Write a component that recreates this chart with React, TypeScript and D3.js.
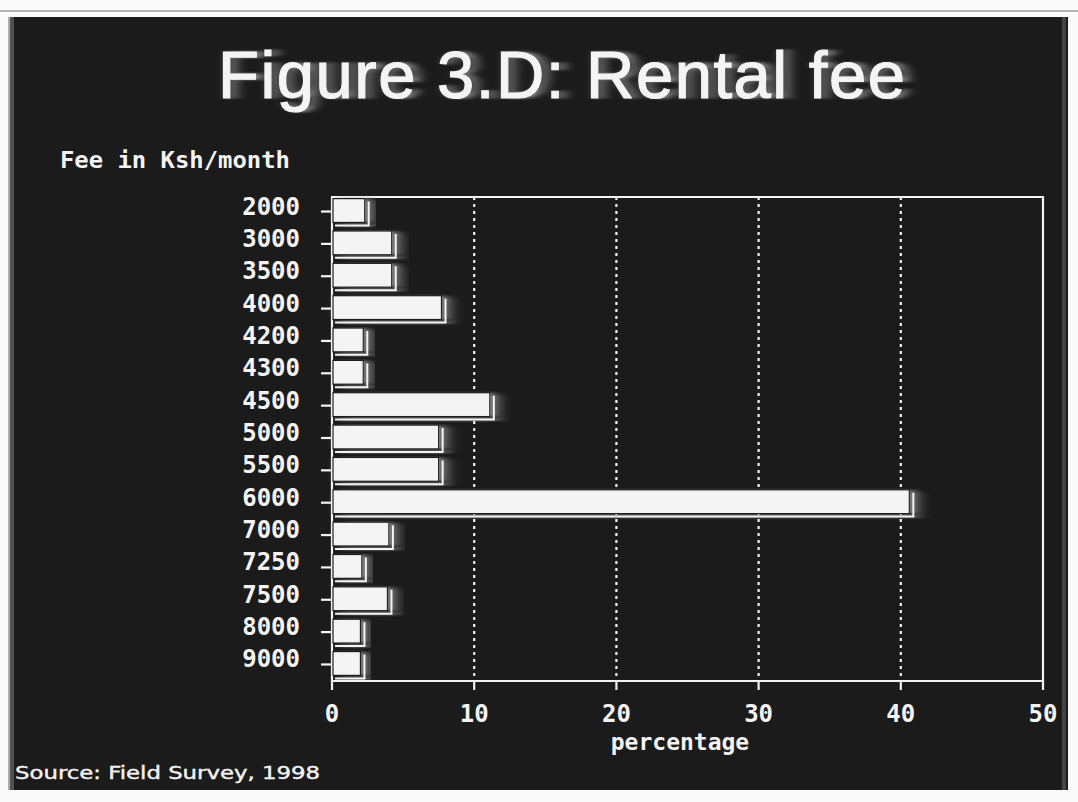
import * as d3 from 'd3';

const fees = ['2000', '3000', '3500', '4000', '4200', '4300', '4500', '5000', '5500', '6000', '7000', '7250', '7500', '8000', '9000'];
const percents = [2.3, 4.2, 4.2, 7.7, 2.2, 2.2, 11.1, 7.5, 7.5, 40.6, 4.0, 2.1, 3.9, 2.0, 2.0];
const xTicks = [0, 10, 20, 30, 40, 50];
const gridTicks = [10, 20, 30, 40];

const W = 1078;
const H = 802;
const BG = '#1b1b1b';
const FG = '#f4f4f4';

export default function App() {
  const left = 332;
  const right = 1043;
  const top = 197;
  const bottom = 681;

  const x = d3.scaleLinear().domain([0, 50]).range([left, right]);
  const y = d3.scaleBand<string>().domain(fees).range([top, bottom]).paddingInner(0.14).paddingOuter(0.05);
  const bh = y.bandwidth() - 4;

  const mono = '"DejaVu Sans Mono", monospace';

  return (
    <svg width={W} height={H} style={{ position: 'absolute', left: 0, top: 0, background: '#fafafa' }}>
      <defs>
        <filter id="smear" x="-10%" y="-30%" width="130%" height="160%">
          <feGaussianBlur in="SourceGraphic" stdDeviation="6 1" result="b" />
          <feOffset in="b" dx="6" dy="0" result="o" />
          <feComponentTransfer in="o" result="f">
            <feFuncA type="linear" slope="0.5" />
          </feComponentTransfer>
          <feMerge>
            <feMergeNode in="f" />
            <feMergeNode in="SourceGraphic" />
          </feMerge>
        </filter>
      </defs>

      {/* scanned page */}
      <line x1={0} x2={W} y1={11} y2={11} stroke="#999" strokeWidth={1.5} />
      <rect x={10} y={17} width={1058} height={773} fill={BG} />
      <rect x={8} y={17} width={6} height={773} fill="#777" opacity={0.6} />
      <rect x={1062} y={17} width={4} height={773} fill="#555" opacity={0.7} />

      {/* title */}
      <text x={218} y={98} fill={FG} stroke={FG} strokeWidth={1.2} fontFamily='"Liberation Sans", Arial, sans-serif'
        fontSize={67} textLength={687} lengthAdjust="spacing" filter="url(#smear)">Figure 3.D: Rental fee</text>

      <text x={60} y={168} fill={FG} fontFamily={mono} fontWeight="bold" fontSize={23}
        textLength={230} lengthAdjust="spacingAndGlyphs">Fee in Ksh/month</text>

      {/* grid */}
      {gridTicks.map(t => (
        <line key={t} x1={x(t)} x2={x(t)} y1={top} y2={bottom} stroke={FG} strokeWidth={2.2} strokeDasharray="3 4" />
      ))}

      {/* frame */}
      <path d={`M${left},${top}H${right}V${bottom}H${left}Z`} fill="none" stroke={FG} strokeWidth={2.2} />

      {/* x ticks */}
      {xTicks.map(t => (
        <g key={t}>
          <line x1={x(t)} x2={x(t)} y1={bottom} y2={bottom + 9} stroke={FG} strokeWidth={2.2} />
          <text x={x(t)} y={722} textAnchor="middle" fill={FG} fontFamily={mono} fontWeight="bold" fontSize={24}>{t}</text>
        </g>
      ))}
      <text x={680} y={750} textAnchor="middle" fill={FG} fontFamily={mono} fontWeight="bold" fontSize={23}>percentage</text>

      {/* y ticks and bars */}
      {fees.map((f, i) => {
        const y0 = y(f) as number;
        const cy = y0 + bh / 2;
        const x1 = x(percents[i]);
        return (
          <g key={f}>
            <line x1={left - 11} x2={left} y1={cy + 1} y2={cy + 1} stroke={FG} strokeWidth={2.2} />
            <text x={300} y={cy + 4} textAnchor="end" fill={FG} fontFamily={mono} fontWeight="bold" fontSize={24}>{f}</text>
            <g filter="url(#smear)">
              <path d={`M${left + 3},${y0 + bh + 3}H${x1 + 4}V${y0 + 3}`} fill="none" stroke={FG} strokeWidth={2} />
              <rect x={left + 1} y={y0} width={x1 - left - 1} height={bh} fill={FG} stroke={BG} strokeWidth={1.2} />
            </g>
          </g>
        );
      })}

      <text x={15} y={779} fill={FG} stroke={FG} strokeWidth={0.4} fontFamily='"DejaVu Sans", sans-serif' fontSize={18}
        textLength={305} lengthAdjust="spacingAndGlyphs">Source: Field Survey, 1998</text>
    </svg>
  );
}
